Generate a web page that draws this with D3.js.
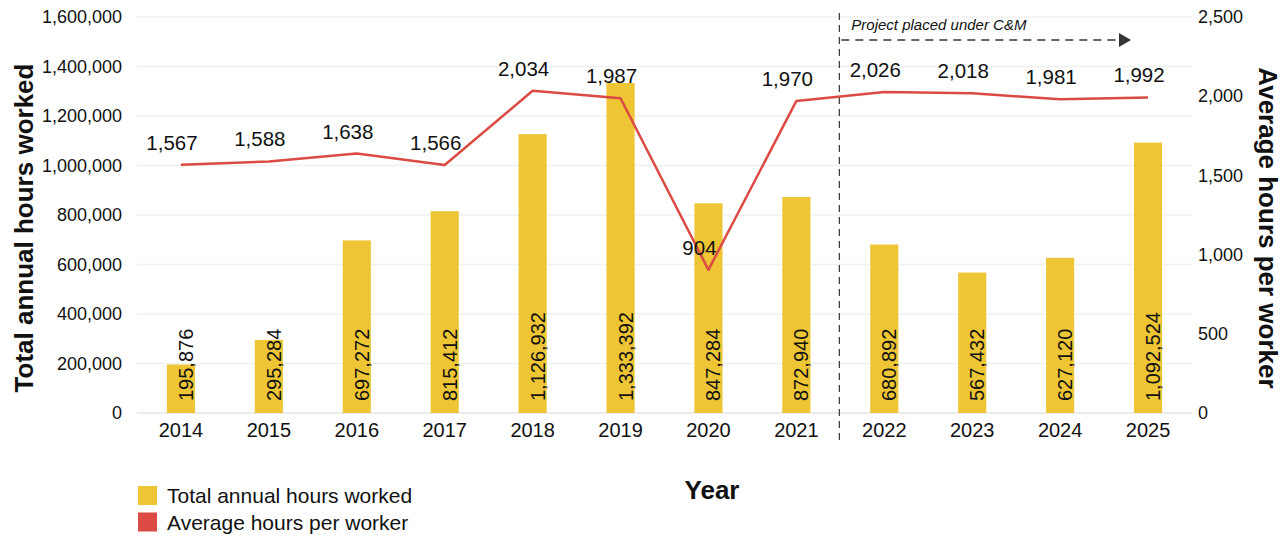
<!DOCTYPE html>
<html>
<head>
<meta charset="utf-8">
<script src="https://cdn.jsdelivr.net/npm/d3@7"></script>
<style>
  html, body { margin: 0; padding: 0; background: #fff; }
  svg { display: block; font-family: "Liberation Sans", Arial, sans-serif; }
</style>
</head>
<body>
<svg id="chart" width="1287" height="537"></svg>
<script>
// Annual labour data
const years = ["2014","2015","2016","2017","2018","2019","2020","2021","2022","2023","2024","2025"];
const totalHours = [195876, 295284, 697272, 815412, 1126932, 1333392, 847284, 872940, 680892, 567432, 627120, 1092524];
const avgHours = [1567, 1588, 1638, 1566, 2034, 1987, 904, 1970, 2026, 2018, 1981, 1992];
const leftTicks = [0, 200000, 400000, 600000, 800000, 1000000, 1200000, 1400000, 1600000];
const rightTicks = [0, 500, 1000, 1500, 2000, 2500];
const legendItems = ["Total annual hours worked", "Average hours per worker"];
const cmStartYear = "2022";

const barColor = "#EDC535";
const lineColor = "#DB4A43";
const textColor = "#111";
const fmt = d3.format(",");

const svg = d3.select("#chart");
const plot = { left: 137, right: 1192, top: 17, bottom: 413 };

const x = d3.scaleBand().domain(years).range([plot.left, plot.right]).padding(0);
const yL = d3.scaleLinear().domain([0, 1600000]).range([plot.bottom, plot.top]);
const yR = d3.scaleLinear().domain([0, 2500]).range([plot.bottom, plot.top]);
const barW = x.bandwidth() * 0.32;
const cx = d => x(d) + x.bandwidth() / 2;

// Gridlines
svg.append("g")
  .selectAll("line").data(leftTicks).join("line")
  .attr("x1", plot.left).attr("x2", plot.right)
  .attr("y1", d => yL(d)).attr("y2", d => yL(d))
  .attr("stroke", d => d === 0 ? "#e4e4e4" : "#f0f0f0")
  .attr("stroke-width", 1.5);

function styleTicks(g, size) {
  g.select(".domain").remove();
  g.selectAll("text")
    .attr("font-size", size)
    .attr("fill", textColor)
    .attr("font-family", "Liberation Sans, Arial, sans-serif");
}

// Left axis
svg.append("g")
  .attr("transform", `translate(${plot.left - 15},0)`)
  .call(d3.axisLeft(yL).tickValues(leftTicks).tickFormat(fmt).tickSize(0).tickPadding(0))
  .call(styleTicks, 18);

// Right axis
svg.append("g")
  .attr("transform", `translate(${plot.right + 6},0)`)
  .call(d3.axisRight(yR).tickValues(rightTicks).tickFormat(fmt).tickSize(0).tickPadding(0))
  .call(styleTicks, 18);

// Bottom axis
svg.append("g")
  .attr("transform", `translate(0,${plot.bottom + 10})`)
  .call(d3.axisBottom(x).tickSize(0).tickPadding(0))
  .call(styleTicks, 20)
  .selectAll("text").attr("dy", "0.71em");

// Axis titles
const titleMid = 228;
svg.append("text")
  .attr("transform", `translate(33,${titleMid}) rotate(-90)`)
  .attr("text-anchor", "middle")
  .attr("font-size", 26).attr("font-weight", "bold").attr("fill", textColor)
  .text("Total annual hours worked");

svg.append("text")
  .attr("transform", `translate(1259,${titleMid}) rotate(90)`)
  .attr("text-anchor", "middle")
  .attr("font-size", 26).attr("font-weight", "bold").attr("fill", textColor)
  .text("Average hours per worker");

svg.append("text")
  .attr("x", 712).attr("y", 499)
  .attr("text-anchor", "middle")
  .attr("font-size", 26).attr("font-weight", "bold").attr("fill", textColor)
  .text("Year");

// Bars
svg.append("g")
  .selectAll("rect").data(years).join("rect")
  .attr("x", d => cx(d) - barW / 2)
  .attr("width", barW)
  .attr("y", (d, i) => yL(totalHours[i]))
  .attr("height", (d, i) => yL(0) - yL(totalHours[i]))
  .attr("fill", barColor);

// Bar value labels, reading upward from the base
svg.append("g")
  .selectAll("text").data(years).join("text")
  .attr("transform", d => `translate(${cx(d) + 12},${plot.bottom - 12}) rotate(-90)`)
  .attr("text-anchor", "start")
  .attr("font-size", 20).attr("fill", textColor)
  .text((d, i) => fmt(totalHours[i]));

// C&M marker: dashed vertical divider and arrow
const cmX = x(cmStartYear) - 1;
svg.append("line")
  .attr("x1", cmX).attr("x2", cmX)
  .attr("y1", 13).attr("y2", 442)
  .attr("stroke", "#333").attr("stroke-width", 1.2)
  .attr("stroke-dasharray", "7,5");

svg.append("defs").append("marker")
  .attr("id", "arrowhead")
  .attr("markerUnits", "userSpaceOnUse")
  .attr("viewBox", "0 0 12 14")
  .attr("refX", 12).attr("refY", 7)
  .attr("markerWidth", 12).attr("markerHeight", 14)
  .attr("orient", "auto")
  .append("path").attr("d", "M0,0 L12,7 L0,14 Z").attr("fill", "#333");

svg.append("line")
  .attr("x1", cmX + 2).attr("x2", 1131)
  .attr("y1", 40).attr("y2", 40)
  .attr("stroke", "#333").attr("stroke-width", 1.5)
  .attr("stroke-dasharray", "8,6")
  .attr("marker-end", "url(#arrowhead)");

svg.append("text")
  .attr("x", cmX + 12).attr("y", 30)
  .attr("font-size", 15).attr("font-style", "italic").attr("fill", textColor)
  .text("Project placed under C&M");

// Average hours line
const line = d3.line()
  .x(d => cx(d))
  .y((d, i) => yR(avgHours[i]));

svg.append("path")
  .datum(years)
  .attr("d", line)
  .attr("fill", "none")
  .attr("stroke", lineColor)
  .attr("stroke-width", 2.5)
  .attr("stroke-linejoin", "round");

// Line value labels, set slightly left of each point
svg.append("g")
  .selectAll("text").data(years).join("text")
  .attr("x", d => cx(d) - 9)
  .attr("y", (d, i) => yR(avgHours[i]) - 15)
  .attr("text-anchor", "middle")
  .attr("font-size", 20.5).attr("fill", textColor)
  .text((d, i) => fmt(avgHours[i]));

// Legend
const legend = svg.append("g").attr("transform", "translate(138,486)");
legend.selectAll("rect").data(legendItems).join("rect")
  .attr("x", 0).attr("y", (d, i) => i * 26.5)
  .attr("width", 19).attr("height", 19)
  .attr("fill", (d, i) => i === 0 ? barColor : lineColor);
legend.selectAll("text").data(legendItems).join("text")
  .attr("x", 29).attr("y", (d, i) => i * 27 + 17)
  .attr("font-size", 21).attr("fill", textColor)
  .text(d => d);
</script>
</body>
</html>
